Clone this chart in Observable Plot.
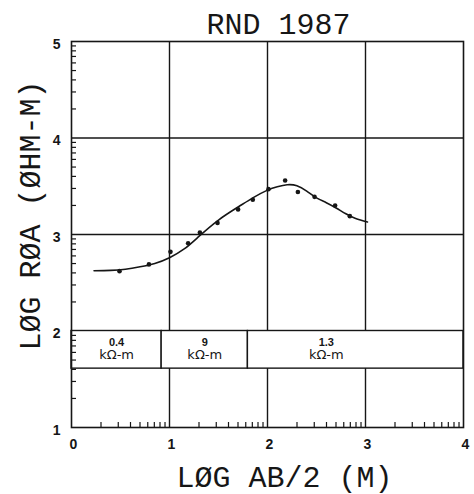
<!DOCTYPE html>
<html>
<head>
<meta charset="utf-8">
<script src="https://cdn.jsdelivr.net/npm/d3@7"></script>
<script src="https://cdn.jsdelivr.net/npm/@observablehq/plot@0.6"></script>
<style>
  html, body { margin: 0; padding: 0; background: white; }
  g[aria-label="title"] text { letter-spacing: 1px; }
  g[aria-label="xlabel"] text { letter-spacing: 1px; }
  g[aria-label="ylabel"] text { letter-spacing: 3.6px; }
</style>
</head>
<body>
<div id="chart"></div>
<script>
// ---- data ----
const title = "RND 1987";
const xLabel = "LØG AB/2 (M)";
const yLabel = "LØG RØA (ØHM-M)";
const xTicks = [0, 1, 2, 3, 4];
const yTicks = [1, 2, 3, 4, 5];

// observed apparent resistivity (log10 AB/2, log10 rho_a)
const obsX = [0.49, 0.79, 1.01, 1.19, 1.31, 1.49, 1.70, 1.85, 2.01, 2.18, 2.31, 2.48, 2.69, 2.84];
const obsY = [2.62, 2.69, 2.82, 2.91, 3.02, 3.12, 3.26, 3.36, 3.47, 3.56, 3.44, 3.39, 3.30, 3.19];

// fitted model curve
const curveX = [0.23, 0.40, 0.55, 0.70, 0.85, 1.00, 1.15, 1.30, 1.50, 1.70, 1.85, 2.00, 2.10, 2.20, 2.30, 2.40, 2.50, 2.60, 2.70, 2.80, 2.90, 3.02];
const curveY = [2.625, 2.628, 2.64, 2.665, 2.70, 2.76, 2.85, 2.98, 3.15, 3.285, 3.38, 3.46, 3.495, 3.515, 3.505, 3.45, 3.38, 3.33, 3.275, 3.215, 3.165, 3.13];

// layered model (resistivity box)
const layerRho = ["0.4", "9", "1.3"];
const layerUnit = "kΩ-m";
const layerFrom = [0, 0.92, 1.8];
const layerTo = [0.92, 1.8, 4];
const layerLabelX = [0.46, 1.36, 2.6];
const boxTop = 2.0;
const boxBottom = 1.61;

// ---- build ----
const points = obsX.map((x, i) => ({x, y: obsY[i]}));
const curve = curveX.map((x, i) => ({x, y: curveY[i]}));
const layers = layerRho.map((rho, i) => ({rho, from: layerFrom[i], to: layerTo[i], lx: layerLabelX[i]}));
const minorX = d3.range(0, 4).flatMap(d => d3.range(2, 10).map(k => d + Math.log10(k)));
const minorY = d3.range(1, 5).flatMap(d => d3.range(2, 10).map(k => d + Math.log10(k)));

const W = 474, H = 494, mt = 41, mb = 67, ml = 71, mr = 11;
const innerW = W - ml - mr, innerH = H - mt - mb;
const ink = "#161616";
const plotFont = "Liberation Mono";
const tickFont = "Liberation Sans";

const chart = Plot.plot({
  width: W,
  height: H,
  marginTop: mt,
  marginBottom: mb,
  marginLeft: ml,
  marginRight: mr,
  x: {domain: [0, 4]},
  y: {domain: [1, 5]},
  style: {background: "white", color: ink},
  marks: [
    Plot.ruleX([1, 2, 3], {stroke: ink, strokeWidth: 1.4}),
    Plot.ruleY([2, 3, 4], {stroke: ink, strokeWidth: 1.4}),
    Plot.rect(layers, {x1: "from", x2: "to", y1: () => boxBottom, y2: () => boxTop, fill: "white", stroke: ink, strokeWidth: 1.4}),
    Plot.text(layers, {x: "lx", y: () => (boxTop + boxBottom) / 2, text: "rho", dy: -7, fontSize: 11, fontWeight: "bold", fontFamily: tickFont, fill: ink}),
    Plot.text(layers, {x: "lx", y: () => (boxTop + boxBottom) / 2, text: () => layerUnit, dy: 5, fontSize: 13, fontFamily: "DejaVu Sans", fill: ink}),
    Plot.line(curve, {x: "x", y: "y", curve: "natural", stroke: ink, strokeWidth: 1.6}),
    Plot.dot(points, {x: "x", y: "y", r: 2.3, fill: ink, stroke: "none"}),
    Plot.tickX(minorX, {x: d => d, insetTop: innerH - 5, stroke: ink, strokeWidth: 1.2}),
    Plot.tickY(minorY, {y: d => d, insetRight: innerW - 5, stroke: ink, strokeWidth: 1.2}),
    Plot.frame({stroke: ink, strokeWidth: 1.6}),
    Plot.axisX({ticks: xTicks, tickSize: 0, tickPadding: 12, dx: 2, label: null, fontSize: 14, fontWeight: "bold", fontFamily: tickFont, tickFormat: d => String(d)}),
    Plot.axisY({ticks: yTicks, tickSize: 0, tickPadding: 11, dy: 3, label: null, fontSize: 14, fontWeight: "bold", fontFamily: tickFont, tickFormat: d => String(d)}),
    Plot.text([title], {text: d => d, frameAnchor: "top", textAnchor: "middle", lineAnchor: "bottom", dx: 11, dy: -8, fontSize: 30, fontFamily: plotFont, fill: ink, ariaLabel: "title"}),
    Plot.text([xLabel], {text: d => d, frameAnchor: "bottom", textAnchor: "middle", lineAnchor: "bottom", dx: 17, dy: 59, fontSize: 30, fontFamily: plotFont, fill: ink, ariaLabel: "xlabel"}),
    Plot.text([yLabel], {text: d => d, frameAnchor: "left", textAnchor: "middle", rotate: -90, lineAnchor: "middle", dx: -41, dy: -19, fontSize: 30, fontFamily: plotFont, fill: ink, ariaLabel: "ylabel"})
  ]
});
document.getElementById("chart").append(chart);
</script>
</body>
</html>
